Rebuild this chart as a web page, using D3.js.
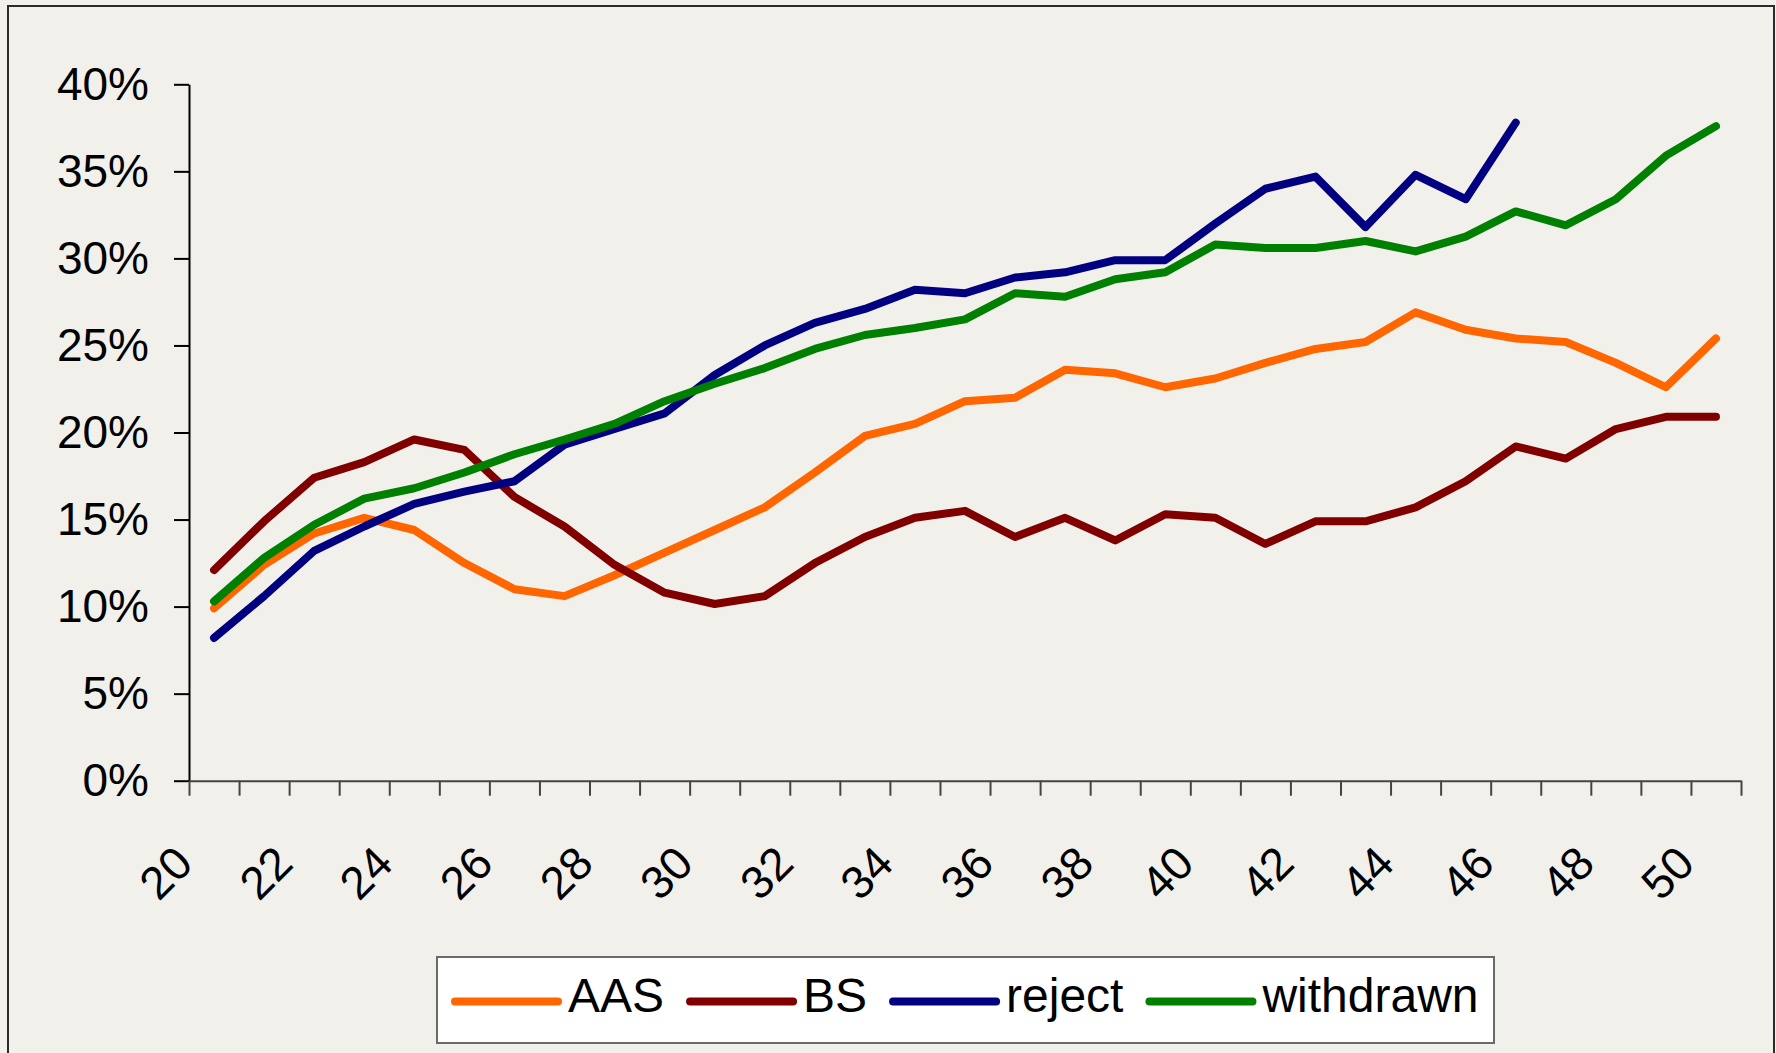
<!DOCTYPE html>
<html>
<head>
<meta charset="utf-8">
<script src="https://cdn.jsdelivr.net/npm/d3@7"></script>
<style>
  body { margin: 0; background: #f2f0eb; }
  svg { display: block; font-family: "Liberation Sans", Arial, sans-serif; }
</style>
</head>
<body>
<svg width="1776" height="1053"></svg>
<script>
// ages on the x axis, one category per year
const ages = d3.range(20, 51);
const xLabels = d3.range(20, 51, 2);
const yTicks = [0, 0.05, 0.10, 0.15, 0.20, 0.25, 0.30, 0.35, 0.40];

const seriesNames = ['AAS', 'BS', 'reject', 'withdrawn'];
const seriesColors = ['#ff6600', '#800000', '#000080', '#008000'];

// values in percent
const aas = [9.9, 12.4, 14.2, 15.1, 14.4, 12.5, 11.0, 10.6, 11.8, 13.1, 14.4, 15.7, 17.7, 19.8, 20.5, 21.8,
    22.0, 23.6, 23.4, 22.6, 23.1, 24.0, 24.8, 25.2, 26.9, 25.9, 25.4, 25.2, 24.0, 22.6, 25.4];
const bs = [12.1, 14.9, 17.4, 18.3, 19.6, 19.0, 16.3, 14.6, 12.4, 10.8, 10.15, 10.6, 12.5, 14.0, 15.1, 15.5,
    14.0, 15.1, 13.8, 15.3, 15.1, 13.6, 14.9, 14.9, 15.7, 17.2, 19.2, 18.5, 20.2, 20.9, 20.9];
const reject = [8.2, 10.6, 13.2, 14.6, 15.9, 16.6, 17.2, 19.3, 20.2, 21.1, 23.3, 25.0, 26.3, 27.1, 28.2, 28.0,
    28.9, 29.2, 29.9, 29.9, 32.0, 34.0, 34.7, 31.8, 34.8, 33.4, 37.8, null, null, null, null];
const withdrawn = [10.3, 12.8, 14.7, 16.2, 16.8, 17.7, 18.75, 19.6, 20.5, 21.8, 22.8, 23.7, 24.8, 25.6, 26.0, 26.5,
    28.0, 27.8, 28.8, 29.2, 30.8, 30.6, 30.6, 31.0, 30.4, 31.25, 32.7, 31.9, 33.4, 35.9, 37.6];

const allSeries = [aas, bs, reject, withdrawn];

const svg = d3.select('svg');

// outer frame
svg.append('rect')
    .attr('x', 8).attr('y', 6)
    .attr('width', 1766).attr('height', 1060)
    .attr('fill', '#f2f0eb')
    .attr('stroke', '#2a2a2a')
    .attr('stroke-width', 2);

const x = d3.scaleLinear().domain([19.5, 50.5]).range([189, 1741]);
const y = d3.scaleLinear().domain([0, 0.4]).range([780.7, 84.3]);

// y axis
const yAxis = svg.append('g')
    .attr('transform', `translate(${x.range()[0]},0)`)
    .call(d3.axisLeft(y)
        .tickValues(yTicks)
        .tickFormat(d3.format('.0%'))
        .tickSize(15)
        .tickSizeOuter(0)
        .tickPadding(25));
yAxis.selectAll('path, line').attr('stroke', '#000').attr('stroke-width', 2);
yAxis.selectAll('text')
    .attr('font-size', 46)
    .attr('font-family', '"Liberation Sans", Arial, sans-serif')
    .attr('fill', '#000');

// x axis, ticks sit between the categories
const xAxis = svg.append('g')
    .attr('transform', `translate(0,${y(0)})`)
    .call(d3.axisBottom(x)
        .tickValues(d3.range(19.5, 51, 1))
        .tickFormat('')
        .tickSize(15)
        .tickSizeOuter(0));
xAxis.selectAll('path, line').attr('stroke', '#444').attr('stroke-width', 2);

svg.append('g')
    .selectAll('text')
    .data(xLabels)
    .enter().append('text')
    .attr('transform', d => `translate(${x(d) - 19},866) rotate(-45)`)
    .attr('text-anchor', 'end')
    .attr('font-size', 46)
    .attr('fill', '#000')
    .text(d => d);

// lines
const line = d3.line()
    .defined(d => d.v !== null)
    .x(d => x(d.age))
    .y(d => y(d.v / 100));

svg.append('g')
    .selectAll('path')
    .data(allSeries)
    .enter().append('path')
    .attr('fill', 'none')
    .attr('stroke', (d, i) => seriesColors[i])
    .attr('stroke-width', 8)
    .attr('stroke-linejoin', 'round')
    .attr('stroke-linecap', 'round')
    .attr('d', s => line(s.map((v, i) => ({ age: ages[i], v: v }))));

// legend
const legend = svg.append('g');
legend.append('rect')
    .attr('x', 437).attr('y', 957)
    .attr('width', 1057).attr('height', 86)
    .attr('fill', '#fff')
    .attr('stroke', '#6a6a6a')
    .attr('stroke-width', 2);

let lx = 455;
seriesNames.forEach((name, i) => {
    legend.append('line')
        .attr('x1', lx).attr('x2', lx + 103)
        .attr('y1', 1001.5).attr('y2', 1001.5)
        .attr('stroke', seriesColors[i])
        .attr('stroke-width', 8)
        .attr('stroke-linecap', 'round');
    const t = legend.append('text')
        .attr('x', lx + 113)
        .attr('y', 1011.5)
        .attr('font-size', 48)
        .attr('fill', '#000')
        .text(name);
    lx += 113 + t.node().getComputedTextLength() + 26;
});
</script>
</body>
</html>
